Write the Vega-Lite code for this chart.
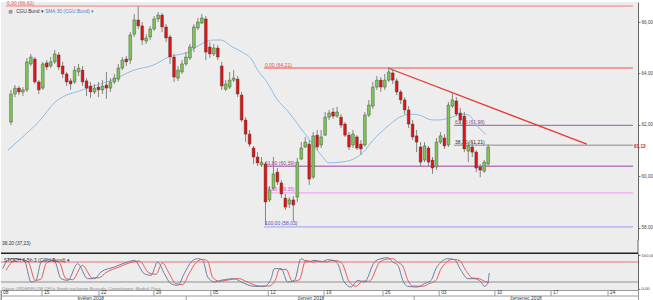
{
"$schema": "https://vega.github.io/schema/vega-lite/v6.json",
"background": "#ffffff",
"padding": 0,
"spacing": 0,
"bounds": "flush",
"config": {
 "font": "Liberation Sans",
 "view": {"stroke": null, "fill": "#ededed"},
 "axis": {"grid": false, "labelFont": "Liberation Sans", "labelFontSize": 4.6, "labelColor": "#444444", "tickColor": "#777777", "domainColor": "#666666", "tickSize": 2, "labelPadding": 1, "labelOverlap": false}
},
"datasets": {
 "candles": [
  {"t":0,"o":62.11,"h":63.36,"l":61.99,"c":63.20},
  {"t":1,"o":63.20,"h":63.55,"l":63.08,"c":63.43},
  {"t":2,"o":63.43,"h":63.51,"l":63.16,"c":63.28},
  {"t":3,"o":63.28,"h":63.47,"l":63.12,"c":63.36},
  {"t":4,"o":63.36,"h":64.60,"l":63.28,"c":64.45},
  {"t":5,"o":64.37,"h":64.76,"l":64.29,"c":64.64},
  {"t":6,"o":64.56,"h":64.64,"l":63.59,"c":63.67},
  {"t":7,"o":63.67,"h":63.74,"l":63.20,"c":63.36},
  {"t":8,"o":63.43,"h":64.45,"l":63.36,"c":64.37},
  {"t":9,"o":64.41,"h":64.52,"l":64.13,"c":64.25},
  {"t":10,"o":64.29,"h":64.64,"l":64.21,"c":64.45},
  {"t":11,"o":64.45,"h":64.91,"l":64.37,"c":64.76},
  {"t":12,"o":64.72,"h":64.83,"l":64.13,"c":64.25},
  {"t":13,"o":64.29,"h":64.45,"l":63.82,"c":63.98},
  {"t":14,"o":63.98,"h":64.06,"l":63.51,"c":63.67},
  {"t":15,"o":63.71,"h":63.82,"l":63.36,"c":63.59},
  {"t":16,"o":63.67,"h":64.29,"l":63.59,"c":64.13},
  {"t":17,"o":64.06,"h":64.37,"l":63.90,"c":64.21},
  {"t":18,"o":64.13,"h":64.29,"l":63.51,"c":63.67},
  {"t":19,"o":63.71,"h":63.82,"l":63.12,"c":63.43},
  {"t":20,"o":63.51,"h":63.67,"l":63.05,"c":63.28},
  {"t":21,"o":63.28,"h":63.59,"l":63.20,"c":63.43},
  {"t":22,"o":63.47,"h":63.67,"l":63.08,"c":63.36},
  {"t":23,"o":63.36,"h":63.74,"l":63.20,"c":63.51},
  {"t":24,"o":63.55,"h":64.06,"l":63.01,"c":63.43},
  {"t":25,"o":63.43,"h":63.82,"l":63.28,"c":63.67},
  {"t":26,"o":63.67,"h":63.98,"l":63.59,"c":63.82},
  {"t":27,"o":63.78,"h":64.37,"l":63.67,"c":64.21},
  {"t":28,"o":64.21,"h":64.64,"l":64.13,"c":64.52},
  {"t":29,"o":64.56,"h":64.68,"l":64.29,"c":64.45},
  {"t":30,"o":64.52,"h":65.61,"l":64.37,"c":65.50},
  {"t":31,"o":65.53,"h":66.31,"l":65.42,"c":66.08},
  {"t":32,"o":66.08,"h":66.62,"l":65.73,"c":65.85},
  {"t":33,"o":65.85,"h":66.00,"l":65.11,"c":65.30},
  {"t":34,"o":65.26,"h":65.53,"l":65.15,"c":65.38},
  {"t":35,"o":65.42,"h":65.85,"l":65.30,"c":65.73},
  {"t":36,"o":65.73,"h":66.23,"l":65.65,"c":66.12},
  {"t":37,"o":66.12,"h":66.39,"l":66.00,"c":66.27},
  {"t":38,"o":66.27,"h":66.35,"l":65.61,"c":65.81},
  {"t":39,"o":65.81,"h":65.92,"l":65.22,"c":65.38},
  {"t":40,"o":65.42,"h":65.50,"l":64.37,"c":64.64},
  {"t":41,"o":64.64,"h":64.76,"l":63.67,"c":63.86},
  {"t":42,"o":63.82,"h":64.29,"l":63.71,"c":64.13},
  {"t":43,"o":64.06,"h":64.52,"l":63.98,"c":64.37},
  {"t":44,"o":64.37,"h":64.83,"l":64.29,"c":64.64},
  {"t":45,"o":64.60,"h":65.15,"l":64.52,"c":65.03},
  {"t":46,"o":64.99,"h":65.92,"l":64.83,"c":65.81},
  {"t":47,"o":65.77,"h":66.16,"l":65.69,"c":66.00},
  {"t":48,"o":65.96,"h":66.31,"l":65.92,"c":66.16},
  {"t":49,"o":66.12,"h":66.23,"l":64.52,"c":64.83},
  {"t":50,"o":65.03,"h":65.22,"l":64.60,"c":64.76},
  {"t":51,"o":64.76,"h":65.15,"l":64.68,"c":64.99},
  {"t":52,"o":64.99,"h":65.11,"l":64.52,"c":64.64},
  {"t":53,"o":64.29,"h":64.45,"l":63.36,"c":63.51},
  {"t":54,"o":63.39,"h":63.74,"l":63.32,"c":63.59},
  {"t":55,"o":63.47,"h":64.06,"l":63.39,"c":63.74},
  {"t":56,"o":63.74,"h":64.13,"l":63.67,"c":63.82},
  {"t":57,"o":63.78,"h":63.90,"l":63.08,"c":63.20},
  {"t":58,"o":63.16,"h":63.28,"l":62.11,"c":62.19},
  {"t":59,"o":62.19,"h":62.30,"l":61.33,"c":61.64},
  {"t":60,"o":61.64,"h":61.80,"l":61.14,"c":61.25},
  {"t":61,"o":61.10,"h":61.18,"l":60.48,"c":60.75},
  {"t":62,"o":60.75,"h":60.94,"l":60.40,"c":60.52},
  {"t":63,"o":60.44,"h":60.75,"l":60.36,"c":60.55},
  {"t":64,"o":60.48,"h":60.55,"l":58.10,"c":59.00},
  {"t":65,"o":59.08,"h":59.62,"l":59.00,"c":59.47},
  {"t":66,"o":59.54,"h":60.75,"l":59.47,"c":60.09},
  {"t":67,"o":60.16,"h":60.32,"l":59.66,"c":59.78},
  {"t":68,"o":59.74,"h":59.85,"l":59.15,"c":59.31},
  {"t":69,"o":59.15,"h":59.31,"l":58.69,"c":58.80},
  {"t":70,"o":58.92,"h":59.19,"l":58.76,"c":59.08},
  {"t":71,"o":59.08,"h":59.23,"l":58.25,"c":58.88},
  {"t":72,"o":59.19,"h":60.71,"l":59.00,"c":60.55},
  {"t":73,"o":60.67,"h":61.33,"l":60.63,"c":61.10},
  {"t":74,"o":61.14,"h":61.53,"l":61.10,"c":61.33},
  {"t":75,"o":61.25,"h":61.41,"l":59.66,"c":59.89},
  {"t":76,"o":59.97,"h":61.72,"l":59.89,"c":61.57},
  {"t":77,"o":61.60,"h":61.80,"l":61.02,"c":61.14},
  {"t":78,"o":61.22,"h":61.80,"l":61.10,"c":61.53},
  {"t":79,"o":61.60,"h":62.50,"l":61.57,"c":62.30},
  {"t":80,"o":62.30,"h":62.58,"l":62.19,"c":62.46},
  {"t":81,"o":62.50,"h":62.66,"l":62.23,"c":62.34},
  {"t":82,"o":62.34,"h":62.70,"l":62.27,"c":62.50},
  {"t":83,"o":62.30,"h":62.42,"l":61.88,"c":61.99},
  {"t":84,"o":62.03,"h":62.11,"l":61.53,"c":61.60},
  {"t":85,"o":61.60,"h":61.72,"l":61.02,"c":61.14},
  {"t":86,"o":61.22,"h":61.80,"l":61.10,"c":61.64},
  {"t":87,"o":61.53,"h":61.60,"l":61.02,"c":61.10},
  {"t":88,"o":61.25,"h":61.41,"l":60.83,"c":61.06},
  {"t":89,"o":61.22,"h":62.50,"l":61.14,"c":62.38},
  {"t":90,"o":62.38,"h":62.97,"l":62.30,"c":62.77},
  {"t":91,"o":62.73,"h":63.67,"l":62.62,"c":63.47},
  {"t":92,"o":63.47,"h":63.90,"l":63.36,"c":63.74},
  {"t":93,"o":63.74,"h":63.86,"l":63.28,"c":63.47},
  {"t":94,"o":63.47,"h":63.98,"l":63.36,"c":63.74},
  {"t":95,"o":63.74,"h":64.21,"l":63.67,"c":64.06},
  {"t":96,"o":64.02,"h":64.13,"l":63.59,"c":63.74},
  {"t":97,"o":63.71,"h":63.82,"l":63.16,"c":63.28},
  {"t":98,"o":63.28,"h":63.36,"l":62.81,"c":62.97},
  {"t":99,"o":62.97,"h":63.08,"l":62.42,"c":62.58},
  {"t":100,"o":62.58,"h":62.73,"l":61.88,"c":62.03},
  {"t":101,"o":62.03,"h":62.19,"l":61.41,"c":61.53},
  {"t":102,"o":61.57,"h":61.80,"l":60.94,"c":61.33},
  {"t":103,"o":61.14,"h":61.33,"l":60.36,"c":60.55},
  {"t":104,"o":60.63,"h":61.33,"l":60.55,"c":61.18},
  {"t":105,"o":61.10,"h":61.18,"l":60.40,"c":60.55},
  {"t":106,"o":60.63,"h":60.75,"l":60.09,"c":60.32},
  {"t":107,"o":60.36,"h":61.49,"l":60.24,"c":61.33},
  {"t":108,"o":61.33,"h":61.72,"l":61.25,"c":61.57},
  {"t":109,"o":61.49,"h":61.64,"l":61.06,"c":61.18},
  {"t":110,"o":61.22,"h":62.89,"l":61.14,"c":62.77},
  {"t":111,"o":62.73,"h":63.22,"l":62.66,"c":62.97},
  {"t":112,"o":62.93,"h":63.08,"l":62.34,"c":62.42},
  {"t":113,"o":62.46,"h":62.66,"l":62.03,"c":62.19},
  {"t":114,"o":62.34,"h":62.50,"l":60.94,"c":61.06},
  {"t":115,"o":60.98,"h":61.33,"l":60.55,"c":61.18},
  {"t":116,"o":61.14,"h":61.33,"l":60.75,"c":60.94},
  {"t":117,"o":60.94,"h":61.02,"l":60.16,"c":60.32},
  {"t":118,"o":60.36,"h":60.48,"l":59.96,"c":60.24},
  {"t":119,"o":60.20,"h":60.63,"l":60.13,"c":60.55},
  {"t":120,"o":60.48,"h":61.25,"l":60.40,"c":61.13}
 ],
 "sma": [
  {"t":-0.74,"p":61.02},{"t":3.71,"p":61.64},{"t":6.93,"p":62.11},{"t":11.14,"p":62.89},{"t":18.56,"p":63.39},
  {"t":26.0,"p":63.78},{"t":30.94,"p":64.13},{"t":35.89,"p":64.33},{"t":39.6,"p":64.64},{"t":44.55,"p":64.83},
  {"t":48.27,"p":65.18},{"t":50.74,"p":65.30},{"t":52.72,"p":65.30},{"t":55.69,"p":65.03},{"t":58.17,"p":64.83},
  {"t":60.64,"p":64.52},{"t":61.88,"p":64.17},{"t":64.36,"p":63.67},{"t":66.83,"p":63.01},{"t":69.8,"p":62.50},
  {"t":73.02,"p":61.84},{"t":75.5,"p":61.33},{"t":77.97,"p":60.83},{"t":79.95,"p":60.52},{"t":82.92,"p":60.55},
  {"t":86.14,"p":60.67},{"t":88.61,"p":60.94},{"t":91.09,"p":61.41},{"t":94.55,"p":61.92},{"t":97.77,"p":62.30},
  {"t":100.25,"p":62.42},{"t":102.72,"p":62.38},{"t":105.94,"p":62.19},{"t":107.67,"p":62.19},{"t":110.89,"p":62.30},
  {"t":113.37,"p":62.42},{"t":115.1,"p":62.38},{"t":117.08,"p":61.99},{"t":119.31,"p":61.64}
 ],
 "trend": [{"t":94.8,"p":64.21},{"t":144.8,"p":61.25}],
 "fib": [
  {"k":"top","p":66.62,"t1":-1.25,"t2":156.42,"lab":"0,00 (66,62)"},
  {"k":"a0","p":64.21,"t1":63.6,"t2":156.42,"lab":"0,00 (64,21)"},
  {"k":"a618","p":60.39,"t1":63.6,"t2":156.42,"lab":"61,80 (60,39)"},
  {"k":"a786","p":59.35,"t1":63.6,"t2":156.42,"lab":"78,60 (59,35)"},
  {"k":"a100","p":58.03,"t1":63.6,"t2":156.42,"lab":"100,00 (58,03)"},
  {"k":"b618","p":61.98,"t1":111.4,"t2":156.42,"lab":"61,80 (61,98)"},
  {"k":"b382","p":61.21,"t1":111.4,"t2":156.42,"lab":"38,20 (61,21)"}
 ],
 "legend": [
  {"t":1.3,"p":66.40,"txt":"CGU.Bund ▾"},
  {"t":8.6,"p":66.40,"txt":"SMA 30 (CGU.Bund) ▾"}
 ],
 "stochK": [
  {"t":-0.8,"v":60},{"t":0.4,"v":85},{"t":2.1,"v":90},{"t":4.5,"v":85},{"t":6.2,"v":20},{"t":7.4,"v":25},{"t":8.7,"v":80},
  {"t":10.3,"v":87},{"t":12.0,"v":83},{"t":13.6,"v":30},{"t":15.3,"v":25},{"t":17.7,"v":75},{"t":20.2,"v":30},{"t":21.9,"v":30},
  {"t":23.5,"v":50},{"t":26.8,"v":65},{"t":30.1,"v":80},{"t":31.8,"v":85},{"t":34.2,"v":45},{"t":35.9,"v":40},{"t":37.5,"v":80},
  {"t":39.2,"v":45},{"t":40.8,"v":15},{"t":42.5,"v":10},{"t":44.1,"v":45},{"t":45.8,"v":80},{"t":47.4,"v":90},{"t":48.7,"v":85},
  {"t":49.9,"v":35},{"t":51.6,"v":20},{"t":53.2,"v":25},{"t":56.5,"v":30},{"t":58.2,"v":20},{"t":61.5,"v":7},{"t":63.9,"v":7},
  {"t":65.6,"v":30},{"t":66.4,"v":60},{"t":68.1,"v":60},{"t":69.7,"v":20},{"t":71.4,"v":25},{"t":73.0,"v":90},{"t":74.7,"v":80},
  {"t":76.3,"v":85},{"t":78.0,"v":80},{"t":79.6,"v":87},{"t":81.3,"v":83},{"t":82.1,"v":75},{"t":83.7,"v":20},{"t":85.4,"v":5},
  {"t":87.1,"v":25},{"t":88.7,"v":20},{"t":91.2,"v":80},{"t":92.8,"v":90},{"t":94.5,"v":93},{"t":95.7,"v":80},{"t":97.0,"v":70},
  {"t":98.2,"v":25},{"t":99.4,"v":7},{"t":101.9,"v":5},{"t":103.5,"v":15},{"t":105.2,"v":25},{"t":106.4,"v":60},{"t":107.7,"v":80},
  {"t":109.3,"v":90},{"t":111.0,"v":87},{"t":112.6,"v":55},{"t":114.3,"v":30},{"t":115.9,"v":30},{"t":117.6,"v":20},{"t":118.4,"v":7},
  {"t":119.2,"v":15},{"t":119.6,"v":47}
 ],
 "stochD": [
  {"t":0.0,"v":55},{"t":1.5,"v":80},{"t":3.3,"v":88},{"t":5.5,"v":80},{"t":7.2,"v":25},{"t":8.6,"v":28},{"t":9.9,"v":75},
  {"t":11.5,"v":85},{"t":13.2,"v":78},{"t":14.8,"v":30},{"t":16.5,"v":27},{"t":18.9,"v":70},{"t":21.4,"v":32},{"t":23.1,"v":33},
  {"t":24.7,"v":48},{"t":28.0,"v":65},{"t":31.3,"v":80},{"t":33.0,"v":83},{"t":35.4,"v":47},{"t":37.1,"v":43},{"t":38.7,"v":77},
  {"t":40.4,"v":45},{"t":42.0,"v":15},{"t":43.7,"v":12},{"t":45.3,"v":45},{"t":47.0,"v":78},{"t":48.6,"v":88},{"t":49.9,"v":83},
  {"t":51.1,"v":35},{"t":52.8,"v":22},{"t":54.4,"v":25},{"t":57.7,"v":30},{"t":59.4,"v":22},{"t":62.7,"v":8},{"t":65.1,"v":8},
  {"t":66.8,"v":30},{"t":67.6,"v":57},{"t":69.3,"v":58},{"t":70.9,"v":22},{"t":72.6,"v":27},{"t":74.2,"v":85},{"t":75.9,"v":80},
  {"t":77.5,"v":83},{"t":79.2,"v":80},{"t":80.8,"v":85},{"t":82.5,"v":82},{"t":83.3,"v":73},{"t":84.9,"v":22},{"t":86.6,"v":7},
  {"t":88.3,"v":23},{"t":89.9,"v":22},{"t":92.4,"v":78},{"t":94.0,"v":88},{"t":95.7,"v":90},{"t":96.9,"v":80},{"t":98.2,"v":68},
  {"t":99.4,"v":27},{"t":100.6,"v":8},{"t":103.1,"v":7},{"t":104.7,"v":15},{"t":106.4,"v":25},{"t":107.6,"v":58},{"t":108.9,"v":78},
  {"t":110.5,"v":88},{"t":112.2,"v":85},{"t":113.8,"v":55},{"t":115.5,"v":32},{"t":117.1,"v":30},{"t":118.8,"v":20},{"t":119.6,"v":18}
 ],
 "weeks": [
  {"t":-1.25,"lab":"08"},{"t":8.9,"lab":"15"},{"t":23.0,"lab":"22"},{"t":36.6,"lab":"29"},{"t":50.7,"lab":"05"},
  {"t":64.9,"lab":"12"},{"t":78.7,"lab":"19"},{"t":93.3,"lab":"26"},{"t":107.2,"lab":"03"},{"t":121.0,"lab":"10"},
  {"t":134.9,"lab":"17"},{"t":149.0,"lab":"24"}
 ],
 "months": [
  {"t":-1.25,"tm":21.0,"lab":"květen 2018"},
  {"t":44.6,"tm":75.5,"lab":"červen 2018"},
  {"t":101.0,"tm":128.7,"lab":"červenec 2018"}
 ]
},
"vconcat": [
 {
  "width": 637, "height": 238,
  "layer": [
   {
    "data": {"name": "fib"},
    "mark": {"type": "rule"},
    "encoding": {
     "x": {"field": "t1", "type": "quantitative", "scale": {"domain": [-1.25, 156.42], "nice": false, "zero": false}, "axis": null},
     "x2": {"field": "t2"},
     "y": {"field": "p", "type": "quantitative", "scale": {"domain": [57.52, 66.78], "nice": false, "zero": false},
      "axis": {"orient": "right", "title": null, "values": [58,58.5,59,59.5,60,60.5,61,61.5,62,62.5,63,63.5,64,64.5,65,65.5,66,66.5],
       "labelExpr": "(datum.value % 1 == 0 && datum.value != 61) ? replace(format(datum.value, '.2f'), '.', ',') : ''"}},
     "stroke": {"field": "k", "type": "ordinal", "legend": null,
      "scale": {"domain": ["top","a0","a618","a786","a100","b618","b382"], "range": ["#f3a0a0","#f08080","#b87ab8","#f2a8f2","#acacee","#a878b8","#8a8a8a"]}},
     "strokeWidth": {"field": "k", "type": "ordinal", "legend": null,
      "scale": {"domain": ["top","a0","a618","a786","a100","b618","b382"], "range": [1.5,1,1,2.5,2.5,1,1]}}
    }
   },
   {
    "data": {"name": "fib"},
    "mark": {"type": "text", "align": "left", "baseline": "bottom", "dx": 1, "dy": -0.5, "fontSize": 5},
    "encoding": {
     "x": {"field": "t1", "type": "quantitative"},
     "y": {"field": "p", "type": "quantitative"},
     "text": {"field": "lab"},
     "fill": {"field": "k", "type": "ordinal", "legend": null,
      "scale": {"domain": ["top","a0","a618","a786","a100","b618","b382"], "range": ["#e05858","#e05050","#904090","#d050d0","#5050c0","#904090","#303030"]}}
    }
   },
   {
    "data": {"name": "sma"},
    "mark": {"type": "line", "color": "#8fbde3", "strokeWidth": 1, "interpolate": "monotone"},
    "encoding": {
     "x": {"field": "t", "type": "quantitative"},
     "y": {"field": "p", "type": "quantitative"}
    }
   },
   {
    "data": {"name": "trend"},
    "mark": {"type": "line", "color": "#e53935", "strokeWidth": 1.2},
    "encoding": {
     "x": {"field": "t", "type": "quantitative"},
     "y": {"field": "p", "type": "quantitative"}
    }
   },
   {
    "data": {"name": "candles"},
    "mark": {"type": "rule", "color": "#858585", "strokeWidth": 1},
    "encoding": {
     "x": {"field": "t", "type": "quantitative"},
     "y": {"field": "l", "type": "quantitative"},
     "y2": {"field": "h"}
    }
   },
   {
    "data": {"name": "candles"},
    "mark": {"type": "bar", "size": 2.8, "stroke": "#3a3a3a", "strokeWidth": 0.4},
    "encoding": {
     "x": {"field": "t", "type": "quantitative"},
     "y": {"field": "o", "type": "quantitative"},
     "y2": {"field": "c"},
     "color": {"condition": {"test": "datum.c >= datum.o", "value": "#7cc653"}, "value": "#e01414"}
    }
   },
   {
    "data": {"name": "legend"},
    "mark": {"type": "text", "align": "left", "baseline": "middle", "fontSize": 4.8},
    "encoding": {
     "x": {"field": "t", "type": "quantitative"},
     "y": {"field": "p", "type": "quantitative"},
     "text": {"field": "txt"},
     "color": {"condition": {"test": "indexof(datum.txt, 'SMA') == 0", "value": "#4a86c8"}, "value": "#333333"}
    }
   },
   {
    "data": {"values": [{}]},
    "mark": {"type": "point", "shape": "square", "size": 14, "filled": true, "color": "#9a9a9a", "opacity": 1},
    "encoding": {
     "x": {"datum": -0.1, "type": "quantitative"},
     "y": {"datum": 66.40, "type": "quantitative"}
    }
   },
   {
    "data": {"values": [{}]},
    "mark": {"type": "text", "align": "left", "baseline": "middle", "dx": 1, "fontSize": 4.6, "fontWeight": "bold", "color": "#d02020"},
    "encoding": {
     "x": {"datum": 156.42, "type": "quantitative"},
     "y": {"datum": 61.13, "type": "quantitative"},
     "text": {"value": "61,13"}
    }
   }
  ]
 },
 {
  "width": 637, "height": 13,
  "layer": [
   {
    "data": {"values": [{}]},
    "mark": {"type": "text", "align": "left", "baseline": "middle", "fontSize": 4.8, "color": "#333333"},
    "encoding": {
     "x": {"datum": -1.0, "type": "quantitative", "scale": {"domain": [-1.25, 156.42], "nice": false, "zero": false}, "axis": null},
     "y": {"datum": 0.72, "type": "quantitative", "scale": {"domain": [0, 1]}, "axis": null},
     "text": {"value": "38,20 (37,23)"}
    }
   },
   {
    "data": {"values": [{}]},
    "mark": {"type": "rule", "color": "#666666"},
    "encoding": {
     "x": {"datum": 156.42, "type": "quantitative"}
    }
   }
  ]
 },
 {
  "width": 637, "height": 37,
  "layer": [
   {
    "data": {"values": [{"v": 80, "k": "hi"}, {"v": 20, "k": "lo"}]},
    "mark": {"type": "rule", "strokeWidth": 1},
    "encoding": {
     "y": {"field": "v", "type": "quantitative", "scale": {"domain": [-4, 107], "nice": false, "zero": false},
      "axis": {"orient": "right", "title": null, "values": [0, 20, 50, 80, 100], "labelFontSize": 4.2,
       "labelExpr": "replace(format(datum.value, '.2f'), '.', ',')"}},
     "color": {"field": "k", "type": "nominal", "legend": null, "scale": {"domain": ["hi", "lo"], "range": ["#e87070", "#909090"]}}
    }
   },
   {
    "data": {"values": [{}]},
    "mark": {"type": "rule", "color": "#222222", "strokeWidth": 1.5},
    "encoding": {
     "y": {"datum": 106.3, "type": "quantitative"}
    }
   },
   {
    "data": {"name": "stochD"},
    "mark": {"type": "line", "color": "#e85a5a", "strokeWidth": 1, "interpolate": "monotone"},
    "encoding": {
     "x": {"field": "t", "type": "quantitative", "scale": {"domain": [-1.25, 156.42], "nice": false, "zero": false}, "axis": null},
     "y": {"field": "v", "type": "quantitative"}
    }
   },
   {
    "data": {"name": "stochK"},
    "mark": {"type": "line", "color": "#6a7fa3", "strokeWidth": 1, "interpolate": "monotone"},
    "encoding": {
     "x": {"field": "t", "type": "quantitative"},
     "y": {"field": "v", "type": "quantitative"}
    }
   },
   {
    "data": {"values": [{}]},
    "mark": {"type": "text", "align": "left", "baseline": "middle", "fontSize": 5, "color": "#333333"},
    "encoding": {
     "x": {"datum": -0.6, "type": "quantitative"},
     "y": {"datum": 86, "type": "quantitative"},
     "text": {"value": "STOCH 6-5h 3 (CGU.Bund) ▾"}
    }
   },
   {
    "data": {"values": [{}]},
    "mark": {"type": "text", "align": "left", "baseline": "middle", "fontSize": 4.3, "color": "#8a8a8a"},
    "encoding": {
     "x": {"datum": -1.0, "type": "quantitative"},
     "y": {"datum": -1.5, "type": "quantitative"},
     "text": {"value": "Citace ORDERFLOW CFDs   Single exchange Brussels, Copenhagen, Madrid, Paris"}
    }
   }
  ]
 },
 {
  "width": 637, "height": 12,
  "view": {"fill": "#ffffff", "stroke": "#9a9a9a"},
  "layer": [
   {
    "data": {"values": [{}]},
    "mark": {"type": "rule", "color": "#9a9a9a"},
    "encoding": {
     "y": {"datum": 1, "type": "quantitative", "scale": {"domain": [0, 2], "nice": false}, "axis": null}
    }
   },
   {
    "data": {"name": "weeks"},
    "mark": {"type": "rule", "color": "#9a9a9a"},
    "encoding": {
     "x": {"field": "t", "type": "quantitative", "scale": {"domain": [-1.25, 156.42], "nice": false, "zero": false}, "axis": null},
     "y": {"datum": 1, "type": "quantitative"},
     "y2": {"datum": 2}
    }
   },
   {
    "data": {"name": "weeks"},
    "mark": {"type": "text", "align": "left", "baseline": "middle", "dx": 2, "fontSize": 4.8, "color": "#333333"},
    "encoding": {
     "x": {"field": "t", "type": "quantitative"},
     "y": {"datum": 1.5, "type": "quantitative"},
     "text": {"field": "lab"}
    }
   },
   {
    "data": {"name": "months"},
    "mark": {"type": "rule", "color": "#9a9a9a"},
    "encoding": {
     "x": {"field": "t", "type": "quantitative"},
     "y": {"datum": 0, "type": "quantitative"},
     "y2": {"datum": 1}
    }
   },
   {
    "data": {"name": "months"},
    "mark": {"type": "text", "align": "center", "baseline": "middle", "fontSize": 4.8, "color": "#333333"},
    "encoding": {
     "x": {"field": "tm", "type": "quantitative"},
     "y": {"datum": 0.5, "type": "quantitative"},
     "text": {"field": "lab"}
    }
   }
  ]
 }
]
}
